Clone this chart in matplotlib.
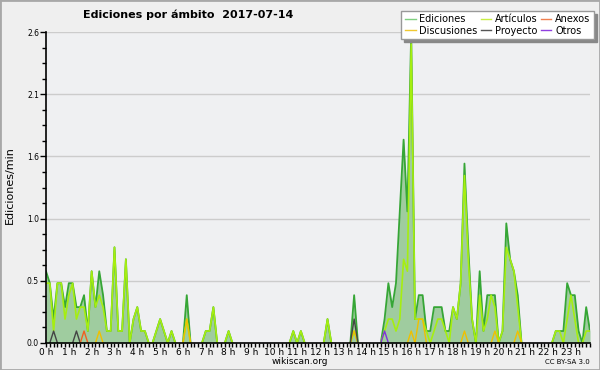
import matplotlib
matplotlib.use("Agg")
import matplotlib.pyplot as plt
import matplotlib.patches as patches
from matplotlib.lines import Line2D
from matplotlib.ticker import FormatStrFormatter
import numpy as np

# edits per minute, one value per 10 minute slot (6 per row = 1 hour)
ediciones = [
    0.6, 0.5, 0.2, 0.5, 0.5, 0.3,   # 0 h
    0.5, 0.5, 0.3, 0.3, 0.4, 0.1,   # 1 h
    0.6, 0.3, 0.6, 0.4, 0.1, 0.1,   # 2 h
    0.8, 0.1, 0.1, 0.7, 0.0, 0.2,   # 3 h
    0.3, 0.1, 0.1, 0.0, 0.0, 0.1,   # 4 h
    0.2, 0.1, 0.0, 0.1, 0.0, 0.0,   # 5 h
    0.0, 0.4, 0.0, 0.0, 0.0, 0.0,   # 6 h
    0.1, 0.1, 0.3, 0.0, 0.0, 0.0,   # 7 h
    0.1, 0.0, 0.0, 0.0, 0.0, 0.0,   # 8 h
    0.0, 0.0, 0.0, 0.0, 0.0, 0.0,   # 9 h
    0.0, 0.0, 0.0, 0.0, 0.0, 0.1,   # 10 h
    0.0, 0.1, 0.0, 0.0, 0.0, 0.0,   # 11 h
    0.0, 0.0, 0.2, 0.0, 0.0, 0.0,   # 12 h
    0.0, 0.0, 0.0, 0.4, 0.0, 0.0,   # 13 h
    0.0, 0.0, 0.0, 0.0, 0.0, 0.2,   # 14 h
    0.5, 0.3, 0.5, 1.1, 1.7, 1.1,   # 15 h
    2.6, 0.2, 0.4, 0.4, 0.1, 0.1,   # 16 h
    0.3, 0.3, 0.3, 0.1, 0.1, 0.3,   # 17 h
    0.2, 0.5, 1.5, 0.8, 0.2, 0.0,   # 18 h
    0.6, 0.1, 0.4, 0.4, 0.4, 0.0,   # 19 h
    0.1, 1.0, 0.7, 0.6, 0.4, 0.0,   # 20 h
    0.0, 0.0, 0.0, 0.0, 0.0, 0.0,   # 21 h
    0.0, 0.0, 0.1, 0.1, 0.1, 0.5,   # 22 h
    0.4, 0.4, 0.1, 0.0, 0.3, 0.1,   # 23 h
]
articulos = [
    0.5, 0.5, 0.1, 0.5, 0.5, 0.2,
    0.4, 0.5, 0.2, 0.3, 0.3, 0.1,
    0.6, 0.3, 0.4, 0.3, 0.1, 0.1,
    0.8, 0.1, 0.1, 0.7, 0.0, 0.2,
    0.3, 0.1, 0.1, 0.0, 0.0, 0.1,
    0.2, 0.1, 0.0, 0.1, 0.0, 0.0,
    0.0, 0.2, 0.0, 0.0, 0.0, 0.0,
    0.1, 0.1, 0.3, 0.0, 0.0, 0.0,
    0.1, 0.0, 0.0, 0.0, 0.0, 0.0,
    0.0, 0.0, 0.0, 0.0, 0.0, 0.0,
    0.0, 0.0, 0.0, 0.0, 0.0, 0.1,
    0.0, 0.1, 0.0, 0.0, 0.0, 0.0,
    0.0, 0.0, 0.2, 0.0, 0.0, 0.0,
    0.0, 0.0, 0.0, 0.1, 0.0, 0.0,
    0.0, 0.0, 0.0, 0.0, 0.0, 0.1,
    0.2, 0.2, 0.1, 0.2, 0.7, 0.6,
    2.5, 0.2, 0.2, 0.2, 0.1, 0.0,
    0.1, 0.2, 0.2, 0.1, 0.0, 0.3,
    0.2, 0.5, 1.4, 0.7, 0.2, 0.0,
    0.4, 0.1, 0.2, 0.4, 0.3, 0.0,
    0.1, 0.8, 0.7, 0.6, 0.3, 0.0,
    0.0, 0.0, 0.0, 0.0, 0.0, 0.0,
    0.0, 0.0, 0.1, 0.1, 0.0, 0.2,
    0.4, 0.2, 0.0, 0.0, 0.1, 0.1,
]
# sparse series: slot index -> value
disc_slots = [14, 37, 81, 96, 98, 99, 110, 118, 124]
disc_vals = [0.1, 0.2, 0.1, 0.1, 0.2, 0.2, 0.1, 0.1, 0.1]
proy_slots = [2, 8, 81]
proy_vals = [0.1, 0.1, 0.2]
anexo_slots = [10]
anexo_vals = [0.1]
otros_slots = [89]
otros_vals = [0.1]

hour_labels = ["%d h" % h for h in range(24)]

n = len(ediciones)
x = np.arange(n) / 6.0


def sparse(slots, vals):
    v = np.zeros(n)
    v[slots] = vals
    return v


def trim(v):
    # hide flat runs of zeros so they do not paint over the axis
    v = np.asarray(v, float)
    nz = (v > 0).astype(int)
    keep = np.convolve(nz, [1, 1, 1], mode="same") > 0
    return np.where(keep, v, np.nan)


discusiones = sparse(disc_slots, disc_vals)
proyecto = sparse(proy_slots, proy_vals)
anexos = sparse(anexo_slots, anexo_vals)
otros = sparse(otros_slots, otros_vals)

bg = "#efefef"
fig = plt.figure(figsize=(6, 3.7), dpi=100, facecolor=bg)
ax = fig.add_axes([46 / 600, 1 - 343 / 370, 544 / 600, 311 / 370], facecolor="#eff0f2")

ymax = 2.6
ax.fill_between(x, ediciones, color="#9fcc9f", lw=0, zorder=1)
ax.plot(x, trim(ediciones), color="#36a636", lw=1.3, zorder=3)
ax.plot(x, trim(articulos), color="#a6ee10", lw=1.2, zorder=4)
ax.plot(x, trim(discusiones), color="#f0c000", lw=1.0, zorder=5)
ax.plot(x, trim(proyecto), color="#444444", lw=1.0, zorder=5)
ax.plot(x, trim(anexos), color="#f06020", lw=1.0, zorder=5)
ax.plot(x, trim(otros), color="#8030e0", lw=1.0, zorder=5)

ax.set_xlim(0, x[-1])
ax.set_ylim(0, ymax)
ax.set_yticks(np.linspace(0, ymax, 6))
ax.set_yticks(np.arange(0, ymax + 0.01, ymax / 20), minor=True)
ax.yaxis.set_major_formatter(FormatStrFormatter("%.1f"))
ax.set_xticks(np.arange(24))
ax.set_xticklabels(hour_labels)
ax.set_xticks(np.arange(0, x[-1] + 0.01, 1 / 6), minor=True)
ax.tick_params(axis="x", which="both", length=3, width=1, labelsize=6.5, pad=0.5)
ax.tick_params(axis="y", which="major", length=4, width=1, labelsize=5.5, pad=1)
ax.tick_params(axis="y", which="minor", length=3, width=1)
ax.grid(axis="y", color="#cccccc", lw=1)
ax.set_axisbelow(True)
for s in ["top", "right"]:
    ax.spines[s].set_visible(False)
for s in ["left", "bottom"]:
    ax.spines[s].set_linewidth(1.2)
    ax.spines[s].set_zorder(6)

fig.text(10 / 600, 1 - 185 / 370, "Ediciones/min", rotation=90, ha="center", va="center", fontsize=8)
fig.text(188 / 600, 1 - 15 / 370, "Ediciones por ámbito  2017-07-14", ha="center", va="center",
         fontsize=8, fontweight="bold")
fig.text(0.5, 1 - 362 / 370, "wikiscan.org", ha="center", va="center", fontsize=6.5)
fig.text(590 / 600, 1 - 362 / 370, "CC BY-SA 3.0", ha="right", va="center", fontsize=5)

handles = [
    Line2D([], [], color="#7fcf7f", lw=1),
    Line2D([], [], color="#f0c830", lw=1),
    Line2D([], [], color="#c8ee44", lw=1),
    Line2D([], [], color="#555555", lw=1),
    Line2D([], [], color="#f08050", lw=1),
    Line2D([], [], color="#9040e0", lw=1),
]
labels = ["Ediciones", "Discusiones", "Artículos", "Proyecto", "Anexos", "Otros"]
fig.legend(handles, labels, ncol=3, loc="upper right", bbox_to_anchor=(594 / 600, 1 - 11 / 370),
           fontsize=7, frameon=True, fancybox=False, shadow={"color": "#888888", "alpha": 1},
           edgecolor="#999999", framealpha=1, handlelength=1.1, handletextpad=0.4,
           columnspacing=0.3, labelspacing=0.15, borderpad=0.35, borderaxespad=0)

fig.add_artist(patches.Rectangle((0, 0), 1, 1, transform=fig.transFigure, fill=False,
                                 ec="#a8a8a8", lw=2))

fig.savefig("out.png", dpi=100, facecolor=bg)
